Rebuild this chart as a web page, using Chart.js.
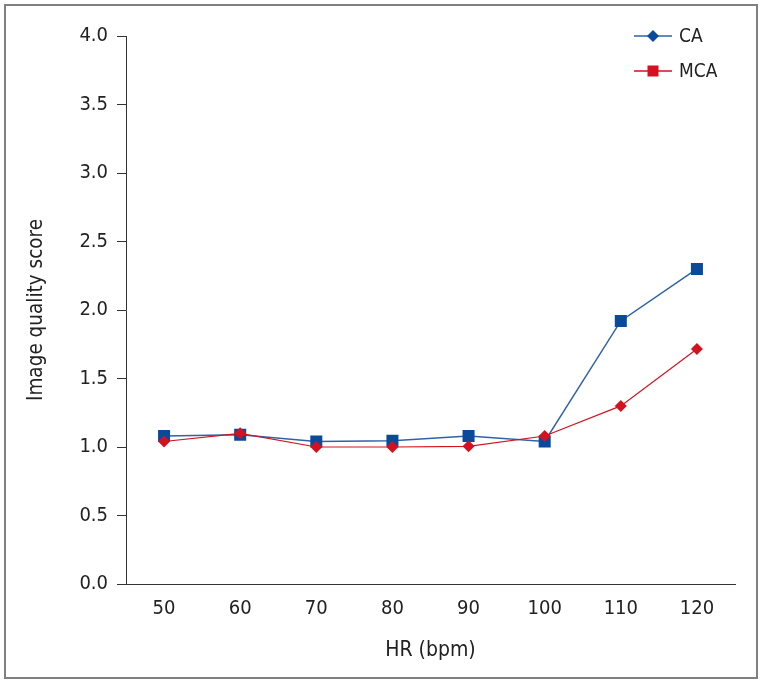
<!DOCTYPE html>
<html>
<head>
<meta charset="utf-8">
<script src="https://cdn.jsdelivr.net/npm/chart.js@4/dist/chart.umd.min.js"></script>
<style>
  html, body { margin: 0; padding: 0; background: #fff; }
  #wrap { position: relative; width: 762px; height: 682px; }
  canvas { display: block; }
</style>
</head>
<body>
<div id="wrap"><canvas id="c" width="762" height="682"></canvas></div>
<script>
// ---- data ----
const categories = ['50', '60', '70', '80', '90', '100', '110', '120'];
const caValues  = [1.08, 1.09, 1.04, 1.045, 1.08, 1.04, 1.92, 2.30];
const mcaValues = [1.04, 1.10, 1.00, 1.00, 1.005, 1.08, 1.30, 1.715];
const seriesNames = ['CA', 'MCA'];
const yTicks = [0, 0.5, 1.0, 1.5, 2.0, 2.5, 3.0, 3.5, 4.0];
const xTitle = 'HR (bpm)';
const yTitle = 'Image quality score';

const FONT = "'DejaVu Sans Condensed', 'DejaVu Sans', sans-serif";
const BLUE_LINE = '#2f62a9';
const BLUE_PT = '#0a4a9c';
const RED = '#d3121f';
const TEXT = '#222';

// frame around the whole figure
const framePlugin = {
  id: 'frame',
  beforeDraw(chart) {
    const ctx = chart.ctx;
    ctx.save();
    ctx.fillStyle = '#fff';
    ctx.fillRect(0, 0, chart.width, chart.height);
    ctx.strokeStyle = '#808080';
    ctx.lineWidth = 2;
    ctx.strokeRect(5, 5, chart.width - 10, chart.height - 9);
    ctx.restore();
  }
};

// legend: line with marker, as in the reference
const legendPlugin = {
  id: 'lineLegend',
  afterDraw(chart, args, opts) {
    const ctx = chart.ctx;
    ctx.save();
    opts.items.forEach((it, i) => {
      const y = opts.y + i * opts.gap;
      ctx.strokeStyle = it.line;
      ctx.lineWidth = 1.5;
      ctx.beginPath();
      ctx.moveTo(opts.x, y);
      ctx.lineTo(opts.x + opts.len, y);
      ctx.stroke();
      ctx.fillStyle = it.point;
      const cx = opts.x + opts.len / 2;
      if (it.shape === 'diamond') {
        const r = 6;
        ctx.beginPath();
        ctx.moveTo(cx, y - r); ctx.lineTo(cx + r, y); ctx.lineTo(cx, y + r); ctx.lineTo(cx - r, y);
        ctx.closePath(); ctx.fill();
      } else {
        const s = 5.5;
        ctx.fillRect(cx - s, y - s, 2 * s, 2 * s);
      }
      ctx.fillStyle = TEXT;
      ctx.font = '19px ' + FONT;
      ctx.textBaseline = 'middle';
      ctx.textAlign = 'left';
      ctx.fillText(chart.data.datasets[i].label, opts.x + opts.len + 7, y + 1);
    });
    ctx.restore();
  }
};

new Chart(document.getElementById('c'), {
  type: 'line',
  data: {
    labels: categories,
    datasets: [
      {
        label: seriesNames[0],
        data: caValues,
        borderColor: BLUE_LINE,
        borderWidth: 1.5,
        backgroundColor: BLUE_PT,
        pointBackgroundColor: BLUE_PT,
        pointBorderColor: BLUE_PT,
        pointStyle: 'rect',
        pointRadius: 8.5,
        pointBorderWidth: 0,
        tension: 0,
        order: 1
      },
      {
        label: seriesNames[1],
        data: mcaValues,
        borderColor: RED,
        borderWidth: 1.2,
        backgroundColor: RED,
        pointBackgroundColor: RED,
        pointBorderColor: RED,
        pointStyle: 'rectRot',
        pointRadius: 6,
        pointBorderWidth: 0,
        tension: 0,
        order: 0
      }
    ]
  },
  options: {
    responsive: false,
    animation: false,
    events: [],
    layout: { padding: { left: 0, right: 27, top: 36, bottom: 0 } },
    plugins: {
      legend: { display: false },
      tooltip: { enabled: false },
      lineLegend: {
        x: 634, y: 36, gap: 35, len: 38,
        items: [
          { line: BLUE_LINE, point: BLUE_PT, shape: 'diamond' },
          { line: RED, point: RED, shape: 'square' }
        ]
      }
    },
    scales: {
      x: {
        type: 'category',
        offset: true,
        grid: { display: true, drawOnChartArea: false, drawTicks: false },
        border: { display: true, color: '#333', width: 1 },
        ticks: { color: TEXT, font: { family: FONT, size: 20 }, padding: 13, maxRotation: 0 },
        title: { display: true, text: xTitle, color: TEXT, font: { family: FONT, size: 21 }, padding: { top: 0, bottom: 19 } },
        afterFit(scale) { scale.height = 682 - 584; }
      },
      y: {
        min: 0, max: 4,
        afterBuildTicks(scale) { scale.ticks = yTicks.map(v => ({ value: v })); },
        grid: { display: true, drawOnChartArea: false, drawTicks: true, tickLength: 9, color: '#333' },
        border: { display: true, color: '#333', width: 1 },
        ticks: { color: TEXT, font: { family: FONT, size: 20 }, padding: 9, callback: v => v.toFixed(1) },
        title: { display: true, text: yTitle, color: TEXT, font: { family: FONT, size: 20.5 }, padding: { top: 24, bottom: 0 } },
        afterFit(scale) { scale.width = 126; }
      }
    }
  },
  plugins: [framePlugin, legendPlugin]
});
</script>
</body>
</html>
